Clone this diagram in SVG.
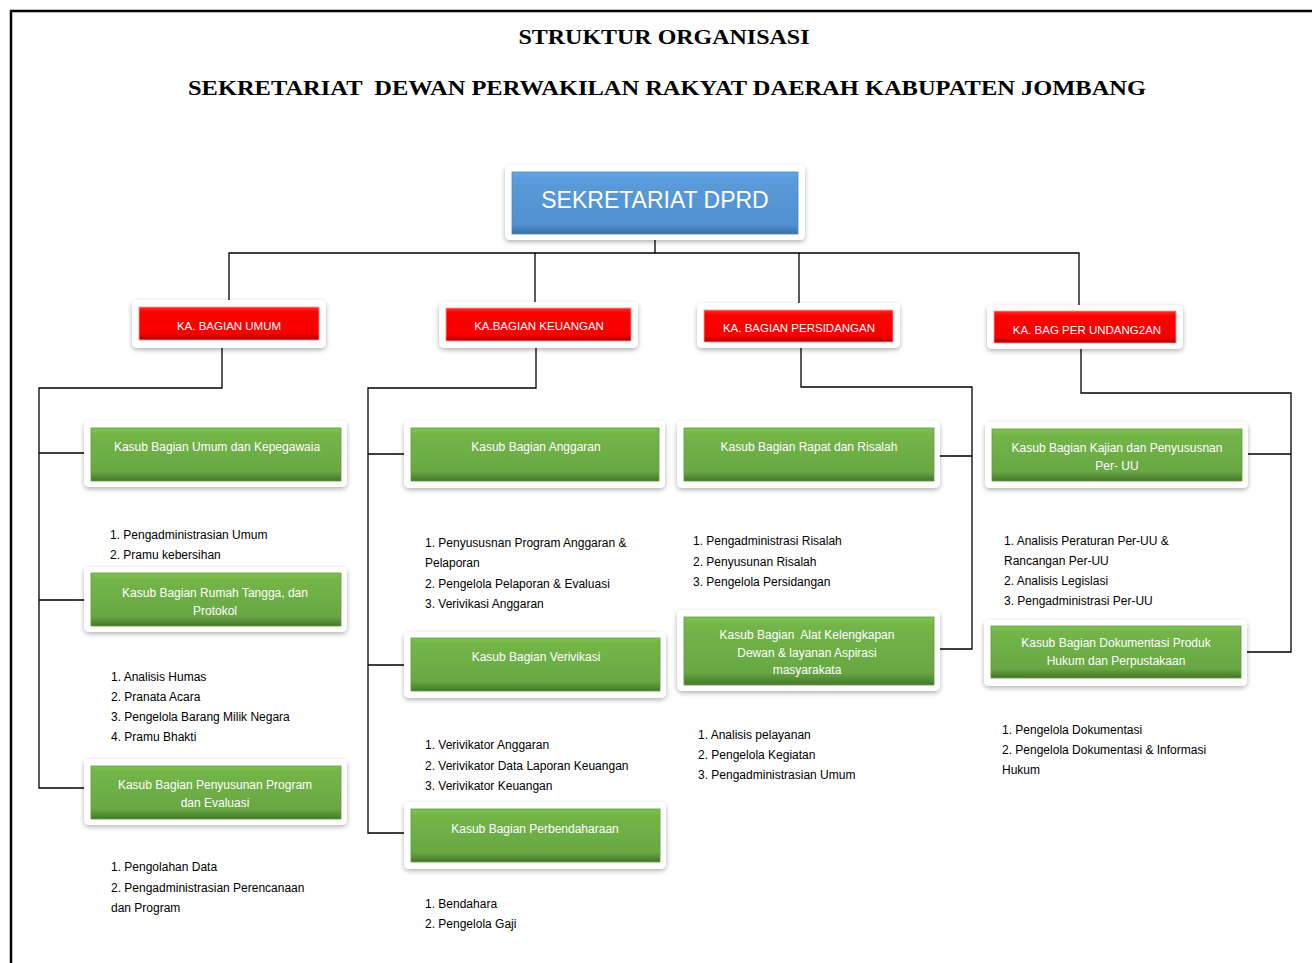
<svg xmlns="http://www.w3.org/2000/svg" width="1312" height="963" viewBox="0 0 1312 963">
<defs>
<filter id="sh" x="-10%" y="-20%" width="120%" height="150%">
<feDropShadow dx="0" dy="2" stdDeviation="2.5" flood-color="#000" flood-opacity="0.3"/>
</filter>
<linearGradient id="gG" x1="0" y1="0" x2="0" y2="1">
<stop offset="0" stop-color="#7fc450"/><stop offset="0.12" stop-color="#74b549"/><stop offset="0.82" stop-color="#68a743"/><stop offset="1" stop-color="#44772a"/>
</linearGradient>
<linearGradient id="gB" x1="0" y1="0" x2="0" y2="1">
<stop offset="0" stop-color="#63a8e8"/><stop offset="0.12" stop-color="#5a9bdb"/><stop offset="0.85" stop-color="#5290cf"/><stop offset="1" stop-color="#3a6fa8"/>
</linearGradient>
<linearGradient id="gR" x1="0" y1="0" x2="0" y2="1">
<stop offset="0" stop-color="#ff3030"/><stop offset="0.15" stop-color="#ff0000"/><stop offset="0.8" stop-color="#f80000"/><stop offset="1" stop-color="#b00000"/>
</linearGradient>
<style>
.fr{fill:#fff;filter:url(#sh)}
.g{fill:url(#gG);stroke:#5f9a3c;stroke-width:0.8}
.b{fill:url(#gB);stroke:#4a86c4;stroke-width:0.8}
.r{fill:url(#gR);stroke:#ff9a9a;stroke-width:0.8}
.gt{font-family:"Liberation Sans",Arial,sans-serif;font-size:12px;fill:#fff;text-anchor:middle}
.rt{font-family:"Liberation Sans",Arial,sans-serif;font-size:11.5px;fill:#fff;text-anchor:middle}
.bt{font-family:"Liberation Sans",Arial,sans-serif;font-size:23px;fill:#fff;text-anchor:middle}
.lt{font-family:"Liberation Sans",Arial,sans-serif;font-size:12px;fill:#000}
.tt{font-family:"Liberation Serif","Times New Roman",serif;font-size:22px;font-weight:bold;fill:#000;text-anchor:middle}
.cn{fill:none;stroke:#000;stroke-width:1.3}
</style>
</defs>
<rect width="1312" height="963" fill="#fff"/>
<path d="M11,970 V11 H1320" fill="none" stroke="#000" stroke-width="2.5"/>
<text class="tt" x="664" y="44" textLength="291" lengthAdjust="spacingAndGlyphs">STRUKTUR ORGANISASI</text>
<text class="tt" x="667" y="95" textLength="958" lengthAdjust="spacingAndGlyphs" xml:space="preserve">SEKRETARIAT  DEWAN PERWAKILAN RAKYAT DAERAH KABUPATEN JOMBANG</text>

<g id="connectors">
<path class="cn" d="M655,240 V253 M229,300 V253 H1079 V305 M535,253 V302 M799,253 V303"/>
<path class="cn" d="M222,348 V388 H39 V788 H84 M39,453 H84 M39,600 H84"/>
<path class="cn" d="M536,348 V388 H368 V833 H404 M368,454 H404 M368,665 H404"/>
<path class="cn" d="M801,348 V387 H972 V649 H940 M940,456 H972"/>
<path class="cn" d="M1081,349 V393 H1291 V652 H1247 M1248,454 H1291"/>
</g>

<g id="sekretariat">
<rect class="fr" x="505" y="165" width="300" height="75" rx="5"/>
<rect class="b" x="512" y="172" width="286" height="62"/>
<text class="bt" x="655" y="208">SEKRETARIAT DPRD</text>
</g>

<g id="ka-umum">
<rect class="fr" x="132" y="300" width="194" height="48" rx="5"/>
<rect class="r" x="139" y="307" width="180" height="33"/>
<text class="rt" x="229" y="330">KA. BAGIAN UMUM</text>
</g>
<g id="ka-keuangan">
<rect class="fr" x="439" y="302" width="199" height="46" rx="5"/>
<rect class="r" x="446" y="308" width="185" height="33"/>
<text class="rt" x="539" y="330">KA.BAGIAN KEUANGAN</text>
</g>
<g id="ka-persidangan">
<rect class="fr" x="697" y="303" width="203" height="45" rx="5"/>
<rect class="r" x="704" y="310" width="189" height="32"/>
<text class="rt" x="799" y="332">KA. BAGIAN PERSIDANGAN</text>
</g>
<g id="ka-undang">
<rect class="fr" x="987" y="305" width="196" height="44" rx="5"/>
<rect class="r" x="994" y="311" width="182" height="32"/>
<text class="rt" x="1087" y="334">KA. BAG PER UNDANG2AN</text>
</g>

<g id="umum-kepegawaian">
<rect class="fr" x="84" y="421" width="263" height="66" rx="5"/>
<rect class="g" x="91" y="428" width="250" height="53"/>
<text class="gt" x="217" y="451">Kasub Bagian Umum dan Kepegawaia</text>
</g>
<g id="rumah-tangga">
<rect class="fr" x="84" y="567" width="263" height="65" rx="5"/>
<rect class="g" x="91" y="573" width="250" height="53"/>
<text class="gt" x="215" y="597">Kasub Bagian Rumah Tangga, dan</text>
<text class="gt" x="215" y="615">Protokol</text>
</g>
<g id="penyusunan-program">
<rect class="fr" x="84" y="759" width="263" height="66" rx="5"/>
<rect class="g" x="91" y="766" width="250" height="53"/>
<text class="gt" x="215" y="789">Kasub Bagian Penyusunan Program</text>
<text class="gt" x="215" y="807">dan Evaluasi</text>
</g>

<g id="anggaran">
<rect class="fr" x="404" y="421" width="261" height="67" rx="5"/>
<rect class="g" x="411" y="428" width="248" height="53"/>
<text class="gt" x="536" y="451">Kasub Bagian Anggaran</text>
</g>
<g id="verivikasi">
<rect class="fr" x="404" y="632" width="262" height="66" rx="5"/>
<rect class="g" x="411" y="638" width="249" height="53"/>
<text class="gt" x="536" y="661">Kasub Bagian Verivikasi</text>
</g>
<g id="perbendaharaan">
<rect class="fr" x="404" y="802" width="262" height="67" rx="5"/>
<rect class="g" x="411" y="809" width="249" height="53"/>
<text class="gt" x="535" y="833">Kasub Bagian Perbendaharaan</text>
</g>

<g id="rapat-risalah">
<rect class="fr" x="677" y="421" width="263" height="67" rx="5"/>
<rect class="g" x="684" y="428" width="250" height="53"/>
<text class="gt" x="809" y="451">Kasub Bagian Rapat dan Risalah</text>
</g>
<g id="alat-kelengkapan">
<rect class="fr" x="677" y="610" width="263" height="81" rx="5"/>
<rect class="g" x="684" y="617" width="250" height="68"/>
<text class="gt" x="807" y="639" xml:space="preserve">Kasub Bagian  Alat Kelengkapan</text>
<text class="gt" x="807" y="657">Dewan &amp; layanan Aspirasi</text>
<text class="gt" x="807" y="674">masyarakata</text>
</g>

<g id="kajian">
<rect class="fr" x="985" y="422" width="263" height="66" rx="5"/>
<rect class="g" x="992" y="429" width="250" height="52"/>
<text class="gt" x="1117" y="452">Kasub Bagian Kajian dan Penyususnan</text>
<text class="gt" x="1117" y="470">Per- UU</text>
</g>
<g id="dokumentasi">
<rect class="fr" x="984" y="620" width="263" height="66" rx="5"/>
<rect class="g" x="991" y="626" width="250" height="52"/>
<text class="gt" x="1116" y="647">Kasub Bagian Dokumentasi Produk</text>
<text class="gt" x="1116" y="665">Hukum dan Perpustakaan</text>
</g>

<g id="lists">
<text class="lt" x="110" y="539">1. Pengadministrasian Umum</text>
<text class="lt" x="110" y="559">2. Pramu kebersihan</text>
<text class="lt" x="111" y="681">1. Analisis Humas</text>
<text class="lt" x="111" y="701">2. Pranata Acara</text>
<text class="lt" x="111" y="721">3. Pengelola Barang Milik Negara</text>
<text class="lt" x="111" y="741">4. Pramu Bhakti</text>
<text class="lt" x="111" y="871">1. Pengolahan Data</text>
<text class="lt" x="111" y="892">2. Pengadministrasian Perencanaan</text>
<text class="lt" x="111" y="912">dan Program</text>

<text class="lt" x="425" y="547">1. Penyususnan Program Anggaran &amp;</text>
<text class="lt" x="425" y="567">Pelaporan</text>
<text class="lt" x="425" y="588">2. Pengelola Pelaporan &amp; Evaluasi</text>
<text class="lt" x="425" y="608">3. Verivikasi Anggaran</text>
<text class="lt" x="425" y="749">1. Verivikator Anggaran</text>
<text class="lt" x="425" y="770">2. Verivikator Data Laporan Keuangan</text>
<text class="lt" x="425" y="790">3. Verivikator Keuangan</text>
<text class="lt" x="425" y="908">1. Bendahara</text>
<text class="lt" x="425" y="928">2. Pengelola Gaji</text>

<text class="lt" x="693" y="545">1. Pengadministrasi Risalah</text>
<text class="lt" x="693" y="566">2. Penyusunan Risalah</text>
<text class="lt" x="693" y="586">3. Pengelola Persidangan</text>
<text class="lt" x="698" y="739">1. Analisis pelayanan</text>
<text class="lt" x="698" y="759">2. Pengelola Kegiatan</text>
<text class="lt" x="698" y="779">3. Pengadministrasian Umum</text>

<text class="lt" x="1004" y="545">1. Analisis Peraturan Per-UU &amp;</text>
<text class="lt" x="1004" y="565">Rancangan Per-UU</text>
<text class="lt" x="1004" y="585">2. Analisis Legislasi</text>
<text class="lt" x="1004" y="605">3. Pengadministrasi Per-UU</text>
<text class="lt" x="1002" y="734">1. Pengelola Dokumentasi</text>
<text class="lt" x="1002" y="754">2. Pengelola Dokumentasi &amp; Informasi</text>
<text class="lt" x="1002" y="774">Hukum</text>
</g>
</svg>
